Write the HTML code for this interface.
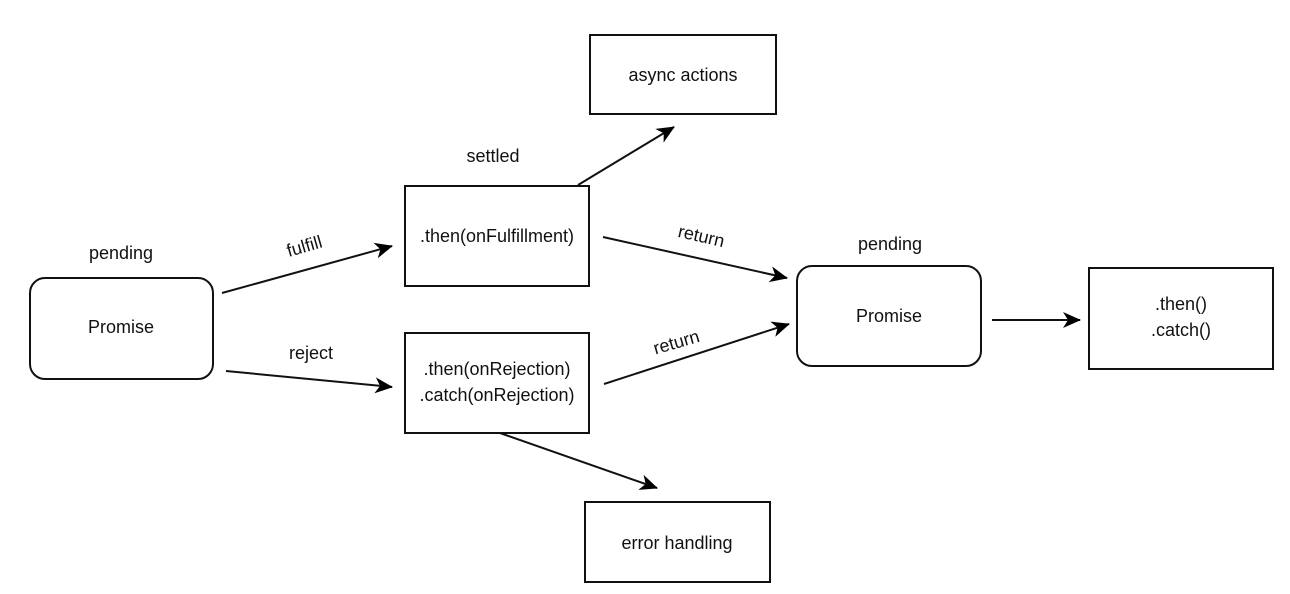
<!DOCTYPE html>
<html><head><meta charset="utf-8"><style>
html,body{margin:0;padding:0;background:#fff;}
svg{display:block;}
text{font-family:"Liberation Sans",Arial,sans-serif;font-size:18px;fill:#111;}
</style></head><body>
<svg width="1290" height="594" viewBox="0 0 1290 594" xmlns="http://www.w3.org/2000/svg">
<defs>
<marker id="a" markerWidth="18" markerHeight="16" refX="17" refY="8" orient="auto" markerUnits="userSpaceOnUse">
<path d="M0,0 L18,8 L0,16 L5,8 Z" fill="#000"/>
</marker>
</defs>
<g fill="none" stroke="#111" stroke-width="2">
<rect x="30" y="278" width="183" height="101" rx="15"/>
<rect x="405" y="186" width="184" height="100"/>
<rect x="405" y="333" width="184" height="100"/>
<rect x="590" y="35" width="186" height="79"/>
<rect x="585" y="502" width="185" height="80"/>
<rect x="797" y="266" width="184" height="100" rx="15"/>
<rect x="1089" y="268" width="184" height="101"/>
</g>
<g stroke="#111" stroke-width="2" marker-end="url(#a)">
<line x1="222" y1="293" x2="392" y2="246"/>
<line x1="226" y1="371" x2="392" y2="387"/>
<line x1="578" y1="185" x2="674" y2="127"/>
<line x1="603" y1="237" x2="787" y2="278"/>
<line x1="604" y1="384" x2="789" y2="324"/>
<line x1="992" y1="320" x2="1080" y2="320"/>
<line x1="500" y1="433" x2="657" y2="488"/>
</g>
<g text-anchor="middle">
<text x="121" y="259">pending</text>
<text x="121" y="333">Promise</text>
<text x="497" y="242">.then(onFulfillment)</text>
<text x="497" y="375">.then(onRejection)</text>
<text x="497" y="401">.catch(onRejection)</text>
<text x="683" y="81">async actions</text>
<text x="677" y="549">error handling</text>
<text x="493" y="162">settled</text>
<text x="890" y="250">pending</text>
<text x="889" y="322">Promise</text>
<text x="1181" y="310">.then()</text>
<text x="1181" y="336">.catch()</text>
<text x="311" y="359">reject</text>
<text transform="translate(306,252) rotate(-16)">fulfill</text>
<text transform="translate(700,242) rotate(13)">return</text>
<text transform="translate(678,348) rotate(-16)">return</text>
</g>
</svg>
</body></html>
